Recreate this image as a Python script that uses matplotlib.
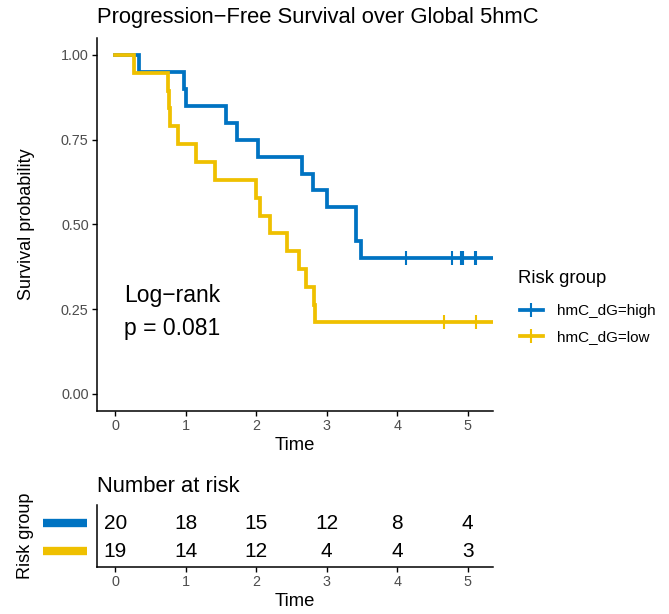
import numpy as np
import matplotlib.pyplot as plt
from matplotlib.lines import Line2D
import matplotlib.transforms as mtransforms

plt.rcParams['font.family'] = ['Liberation Sans', 'DejaVu Sans']

# groups / colours
groups = ["hmC_dG=high", "hmC_dG=low"]
colors = ["#0073C2", "#EFC000"]

# Kaplan-Meier steps
high_time = [0, 0.34, 0.98, 1.005, 1.57, 1.72, 2.03, 2.65, 2.80, 3.01, 3.42, 3.48]
high_surv = [1.0, 0.95, 0.90, 0.85, 0.80, 0.75, 0.70, 0.65, 0.60, 0.55, 0.45, 0.40]
high_cens = [4.12, 4.78, 4.90, 4.94, 5.10, 5.12]

low_time = [0, 0.26, 0.75, 0.76, 0.78, 0.89, 1.14, 1.42, 1.99, 2.05, 2.19, 2.44,
            2.60, 2.70, 2.82, 2.84]
low_surv = [1.0, 0.947, 0.895, 0.842, 0.789, 0.737, 0.684, 0.632, 0.579, 0.526,
            0.474, 0.421, 0.368, 0.316, 0.263, 0.211]
low_cens = [4.67, 5.12]

last_followup = 5.5

# number at risk table
risk_times = [0, 1, 2, 3, 4, 5]
high_risk = [20, 18, 15, 12, 8, 4]
low_risk = [19, 14, 12, 4, 4, 3]

pval_lines = ["Log\u2212rank", "p = 0.081"]

xlim = (-0.26, 5.36)
lw = 2.7
tick_gray = "#4D4D4D"

fig = plt.figure(figsize=(6.69, 6.14), dpi=100)
ax = fig.add_axes([0.145, 0.3311, 0.5919, 0.607])
tab = fig.add_axes([0.145, 0.0770, 0.5919, 0.1005])

series = [(high_time, high_surv, high_cens), (low_time, low_surv, low_cens)]
for (t, s, c), col in zip(series, colors):
    ax.step(t + [last_followup], s + [s[-1]], where="post", color=col, lw=lw,
            solid_joinstyle="miter")
    # censor marks sit on the current survival level
    idx = np.searchsorted(t, c, side="right") - 1
    ax.plot(c, np.array(s)[idx], ls="none", marker="|", ms=9.5, mew=1.5, color=col)

ax.text(0.12, 0.272, pval_lines[0], fontsize=16.5, va="baseline")
ax.text(0.12, 0.172, pval_lines[1], fontsize=16.5, va="baseline")

ax.set_xlim(*xlim)
ax.set_ylim(-0.05, 1.05)
ax.set_xticks(risk_times)
ax.set_yticks([0, 0.25, 0.5, 0.75, 1.0])
ax.set_yticklabels(["0.00", "0.25", "0.50", "0.75", "1.00"])
ax.set_xlabel("Time", fontsize=13.3, labelpad=3)
ax.set_ylabel("Survival probability", fontsize=13)
ax.yaxis.set_label_coords(-0.157, 0.5)

for a in (ax, tab):
    for sp in ("top", "right"):
        a.spines[sp].set_visible(False)
    a.spines["left"].set_linewidth(1.1)
    a.spines["bottom"].set_linewidth(1.1)
    a.tick_params(length=3.5, width=1.0, labelsize=10.4, labelcolor=tick_gray, pad=2.5)

fig.text(97 / 669, 1 - 23.5 / 614, "Progression\u2212Free Survival over Global 5hmC",
         fontsize=15.8, va="baseline", ha="left")

# legend: title drawn separately so its gap to the keys can be matched
fig.text(518 / 669, 1 - 283.3 / 614, "Risk group", fontsize=13.3, va="baseline", ha="left")
handles = [Line2D([], [], color=c, lw=lw, marker="|", ms=9.5, mew=1.5) for c in colors]
leg = fig.legend(handles, groups, loc="center left", bbox_to_anchor=(520 / 669, 1 - 324 / 614),
                 frameon=False, fontsize=11, handlelength=1.5, handletextpad=0.9,
                 labelspacing=0.8, borderpad=0, borderaxespad=0)

# risk table
rows = [(high_risk, 2), (low_risk, 1)]
for (vals, ypos) in rows:
    for x, v in zip(risk_times, vals):
        tab.text(x, ypos, str(v), fontsize=15, ha="center", va="center")
tab.set_xlim(*xlim)
tab.set_ylim(0.433, 2.66)
tab.set_xticks(risk_times)
tab.set_yticks([])
tab.set_xlabel("Time", fontsize=13.3, labelpad=3)
tab.set_ylabel("Risk group", fontsize=13)
tab.yaxis.set_label_coords(-0.159, 0.5)
trans = mtransforms.blended_transform_factory(tab.transAxes, tab.transData)
for (vals, ypos), col in zip(rows, colors):
    tab.plot([-0.137, -0.0245], [ypos, ypos], color=col, lw=6, transform=trans,
             clip_on=False, solid_capstyle="butt")
fig.text(97 / 669, 1 - 491.7 / 614, "Number at risk", fontsize=15.8, va="baseline", ha="left")

fig.savefig("out.png", dpi=100)
